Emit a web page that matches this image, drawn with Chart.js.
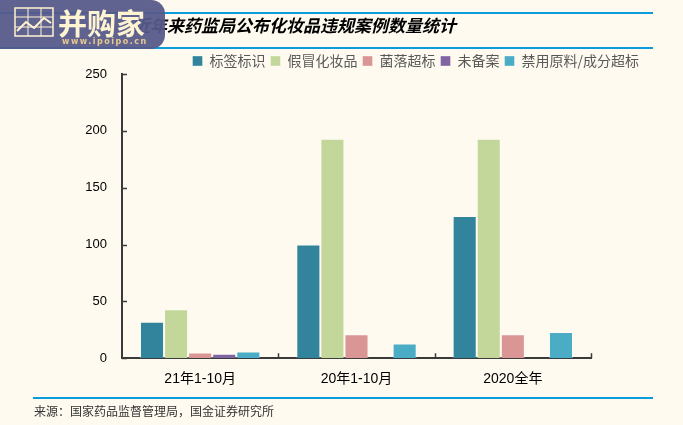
<!DOCTYPE html>
<html>
<head>
<meta charset="utf-8">
<script src="https://cdn.jsdelivr.net/npm/chart.js@4.4.1/dist/chart.umd.min.js"></script>
<style>
  html, body { margin: 0; padding: 0; background: #FEFAEF; }
  #wrap { position: relative; width: 683px; height: 425px; overflow: hidden; background: #FEFAEF; }
  #chart { position: absolute; left: 0; top: 0; }
  .rule { position: absolute; height: 2px; background: #0A9BDB; }
  #title { position: absolute; left: 133px; top: 12px; font: italic bold 17px "Noto Sans CJK SC", sans-serif; color: #000; white-space: nowrap; }
  #source { position: absolute; left: 34px; top: 402px; font: 12px "Noto Sans CJK SC", sans-serif; color: #333; white-space: nowrap; }
  #logo { position: absolute; left: 0; top: 0; width: 165px; height: 49px; background: rgba(86, 89, 138, 0.94); border-radius: 0 14px 14px 0; }
  #logo .name { position: absolute; left: 58px; top: 1px; font: bold 29px "Noto Sans CJK SC", sans-serif; color: #FFF4D2; letter-spacing: 0px; }
  #logo .url { position: absolute; left: 62px; top: 37px; font: bold 8px "DejaVu Sans", sans-serif; color: #E9C98C; letter-spacing: 1.5px; }
  #logo svg { position: absolute; left: 14px; top: 7px; }
</style>
</head>
<body>
<div id="wrap">
  <canvas id="chart" width="683" height="425"></canvas>
  <div class="rule" style="left:0; top:12px; width:653px;"></div>
  <div class="rule" style="left:0; top:47px; width:653px;"></div>
  <div id="title">近年来药监局公布化妆品违规案例数量统计</div>
  <div id="logo">
    <svg width="40" height="30" viewBox="0 0 40 30">
      <rect x="1" y="1" width="38" height="28" fill="none" stroke="#FFF4D2" stroke-width="1.5"/>
      <line x1="14" y1="1" x2="14" y2="29" stroke="#FFF4D2" stroke-width="1"/>
      <line x1="27" y1="1" x2="27" y2="29" stroke="#FFF4D2" stroke-width="1"/>
      <line x1="1" y1="10" x2="39" y2="10" stroke="#FFF4D2" stroke-width="1"/>
      <line x1="1" y1="20" x2="39" y2="20" stroke="#FFF4D2" stroke-width="1"/>
      <polyline points="3,24 12,15 20,21 30,11 37,16" fill="none" stroke="#FFF4D2" stroke-width="2"/>
    </svg>
    <div class="name">并购家</div>
    <div class="url">www.ipoipo.cn</div>
  </div>
  <div class="rule" style="left:33px; top:397px; width:620px;"></div>
  <div id="source">来源：国家药品监督管理局，国金证券研究所</div>
</div>
<script>
// categories and series
var categories = ['21年1-10月', '20年1-10月', '2020全年'];
var seriesNames = ['标签标识', '假冒化妆品', '菌落超标', '未备案', '禁用原料/成分超标'];
var labelMarking = [32, 100, 125];
var counterfeit = [43, 193, 193];
var bacteria = [5, 21, 21];
var unregistered = [4, 0, 0];
var bannedIngredients = [6, 13, 23];
var yTicks = [0, 50, 100, 150, 200, 250];

var colors = ['#31849B', '#C4D79B', '#DA9694', '#8064A2', '#4BACC6'];
var seriesValues = [labelMarking, counterfeit, bacteria, unregistered, bannedIngredients];

var axisColor = '#3A3A3A';

// small inward tick marks, like the original spreadsheet chart
var innerTicks = {
    id: 'innerTicks',
    afterDraw: function (chart) {
        var ctx = chart.ctx;
        var x = chart.scales.x;
        var y = chart.scales.y;
        ctx.save();
        ctx.strokeStyle = axisColor;
        ctx.lineWidth = 1.5;
        yTicks.forEach(function (v) {
            var py = Math.round(y.getPixelForValue(v)) + 0.5;
            ctx.beginPath();
            ctx.moveTo(x.left, py);
            ctx.lineTo(x.left + 5, py);
            ctx.stroke();
        });
        var step = (x.right - x.left) / categories.length;
        for (var i = 1; i <= categories.length; i++) {
            var px = Math.round(x.left + i * step) + 0.5;
            ctx.beginPath();
            ctx.moveTo(px, y.bottom);
            ctx.lineTo(px, y.bottom - 5);
            ctx.stroke();
        }
        ctx.restore();
    }
};

// legend box a bit tighter so the plot starts right under it
var legendTrim = {
    id: 'legendTrim',
    beforeLayout: function (chart) {
        var lg = chart.legend;
        if (!lg || lg._trimmed) return;
        var fit = lg.fit;
        lg.fit = function () {
            fit.apply(this, arguments);
            this.height -= 4;
        };
        lg._trimmed = true;
    }
};

var datasets = seriesNames.map(function (name, i) {
    return {
        label: name,
        data: seriesValues[i],
        backgroundColor: colors[i],
        borderColor: 'rgba(255,255,255,0.35)',
        borderWidth: 1,
        categoryPercentage: 0.77,
        barPercentage: 1.0
    };
});

new Chart(document.getElementById('chart'), {
    type: 'bar',
    data: { labels: categories, datasets: datasets },
    plugins: [innerTicks, legendTrim],
    options: {
        responsive: false,
        animation: false,
        layout: { padding: { left: 72, right: 39, top: 49, bottom: 24 } },
        plugins: {
            legend: {
                position: 'top',
                align: 'end',
                labels: {
                    boxWidth: 10,
                    boxHeight: 10,
                    padding: 5,
                    color: '#595959',
                    font: { family: '"Noto Sans CJK SC", sans-serif', size: 14 }
                }
            },
            tooltip: { enabled: false }
        },
        scales: {
            x: {
                grid: { display: false, drawTicks: false },
                border: { display: true, color: axisColor, width: 2 },
                ticks: {
                    color: '#000',
                    padding: 13,
                    font: { family: '"Liberation Sans", "Noto Sans CJK SC", sans-serif', size: 14 }
                }
            },
            y: {
                min: 0,
                max: 250,
                afterFit: function (s) { s.width = 50; },
                afterBuildTicks: function (s) {
                    s.ticks = yTicks.map(function (v) { return { value: v }; });
                },
                grid: { display: false, drawTicks: false },
                border: { display: true, color: axisColor, width: 2 },
                ticks: {
                    color: '#000',
                    padding: 15,
                    font: { family: '"Liberation Sans", sans-serif', size: 13 }
                }
            },
            spacer: {
                type: 'linear',
                position: 'right',
                afterFit: function (s) { s.width = 53; },
                grid: { display: false, drawTicks: false },
                border: { display: false },
                ticks: { display: false }
            }
        }
    }
});
</script>
</body>
</html>
